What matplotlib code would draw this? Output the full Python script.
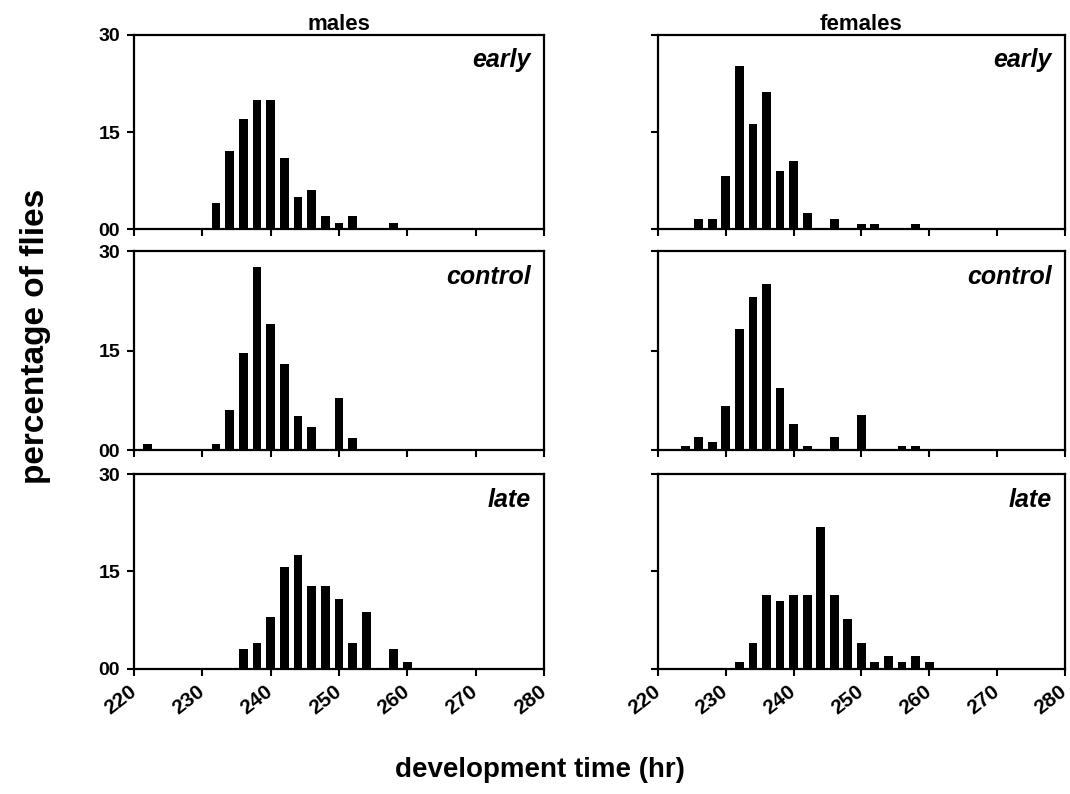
import matplotlib
matplotlib.use('Agg')
import matplotlib.pyplot as plt

plt.rcParams['font.family'] = 'Liberation Sans'
plt.rcParams['font.weight'] = 'bold'

# development time bins (hr)
bins = [222, 224, 226, 228, 230, 232, 234, 236, 238, 240,
        242, 244, 246, 248, 250, 252, 254, 256, 258, 260]

males_early = [0, 0, 0, 0, 0, 4, 12, 17, 20, 20,
               11, 5, 6, 2, 1, 2, 0, 0, 1, 0]
females_early = [0, 0, 1.6, 1.6, 8.2, 25.2, 16.2, 21.1, 9.0, 10.5,
                 2.5, 0, 1.6, 0, 0.8, 0.8, 0, 0, 0.8, 0]
males_control = [0.85, 0, 0, 0, 0, 0.85, 6.1, 14.7, 27.6, 19.0,
                 13.0, 5.2, 3.5, 0, 7.8, 1.8, 0, 0, 0, 0]
females_control = [0, 0.56, 1.9, 1.2, 6.7, 18.2, 23.0, 25.0, 9.4, 3.9,
                   0.56, 0, 1.9, 0, 5.3, 0, 0, 0.56, 0.56, 0]
males_late = [0, 0, 0, 0, 0, 0, 0, 3.0, 4.0, 7.9,
              15.7, 17.5, 12.7, 12.7, 10.7, 4.0, 8.8, 0, 3.0, 1.0]
females_late = [0, 0, 0, 0, 0, 1.0, 3.9, 11.4, 10.4, 11.4,
                11.4, 21.8, 11.4, 7.7, 3.9, 1.0, 1.95, 1.0, 1.95, 1.0]

rows = ['early', 'control', 'late']
columns = ['males', 'females']
data = {
    ('early', 'males'): males_early, ('early', 'females'): females_early,
    ('control', 'males'): males_control, ('control', 'females'): females_control,
    ('late', 'males'): males_late, ('late', 'females'): females_late,
}

xticks = [220, 230, 240, 250, 260, 270, 280]
yticks = [0, 15, 30]
ytick_labels = ['00', '15', '30']

fig = plt.figure(figsize=(10.7, 7.94), dpi=100)

col_x = [(0.1252, 0.3832), (0.615, 0.3800)]
row_y = [(0.7112, 0.2451), (0.4332, 0.2506), (0.1579, 0.2451)]

for r, row in enumerate(rows):
    for c, col in enumerate(columns):
        x0, w = col_x[c]
        y0, h = row_y[r]
        ax = fig.add_axes([x0, y0, w, h])
        ax.bar(bins, data[(row, col)], width=1.3, color='black', linewidth=0)
        ax.set_xlim(220, 280)
        ax.set_ylim(0, 30)
        for s in ax.spines.values():
            s.set_linewidth(1.6)
        ax.set_xticks(xticks)
        ax.set_yticks(yticks)
        ax.tick_params(axis='both', direction='out', length=5, width=1.5)
        ax.tick_params(axis='y', pad=5)
        ax.tick_params(axis='x', pad=10)
        if c == 0:
            ax.set_yticklabels(ytick_labels, fontsize=14, fontweight='bold')
        else:
            ax.set_yticklabels([])
        if r == 2:
            ax.set_xticklabels([str(t) for t in xticks], fontsize=15, fontweight='bold',
                               rotation=38, ha='right', va='center', rotation_mode='anchor')
        else:
            ax.set_xticklabels([])
        ax.text(0.968, 0.93, row, transform=ax.transAxes, ha='right', va='top',
                fontsize=18, fontweight='bold', style='italic')
        if r == 0:
            ax.set_title(col, fontsize=16, fontweight='bold', pad=3)

fig.text(0.033, 0.576, 'percentage of flies', rotation=90, ha='center', va='center',
         fontsize=24, fontweight='bold')
fig.text(0.505, 0.03, 'development time (hr)', ha='center', va='center',
         fontsize=20, fontweight='bold')

fig.savefig('out.png', dpi=100)
